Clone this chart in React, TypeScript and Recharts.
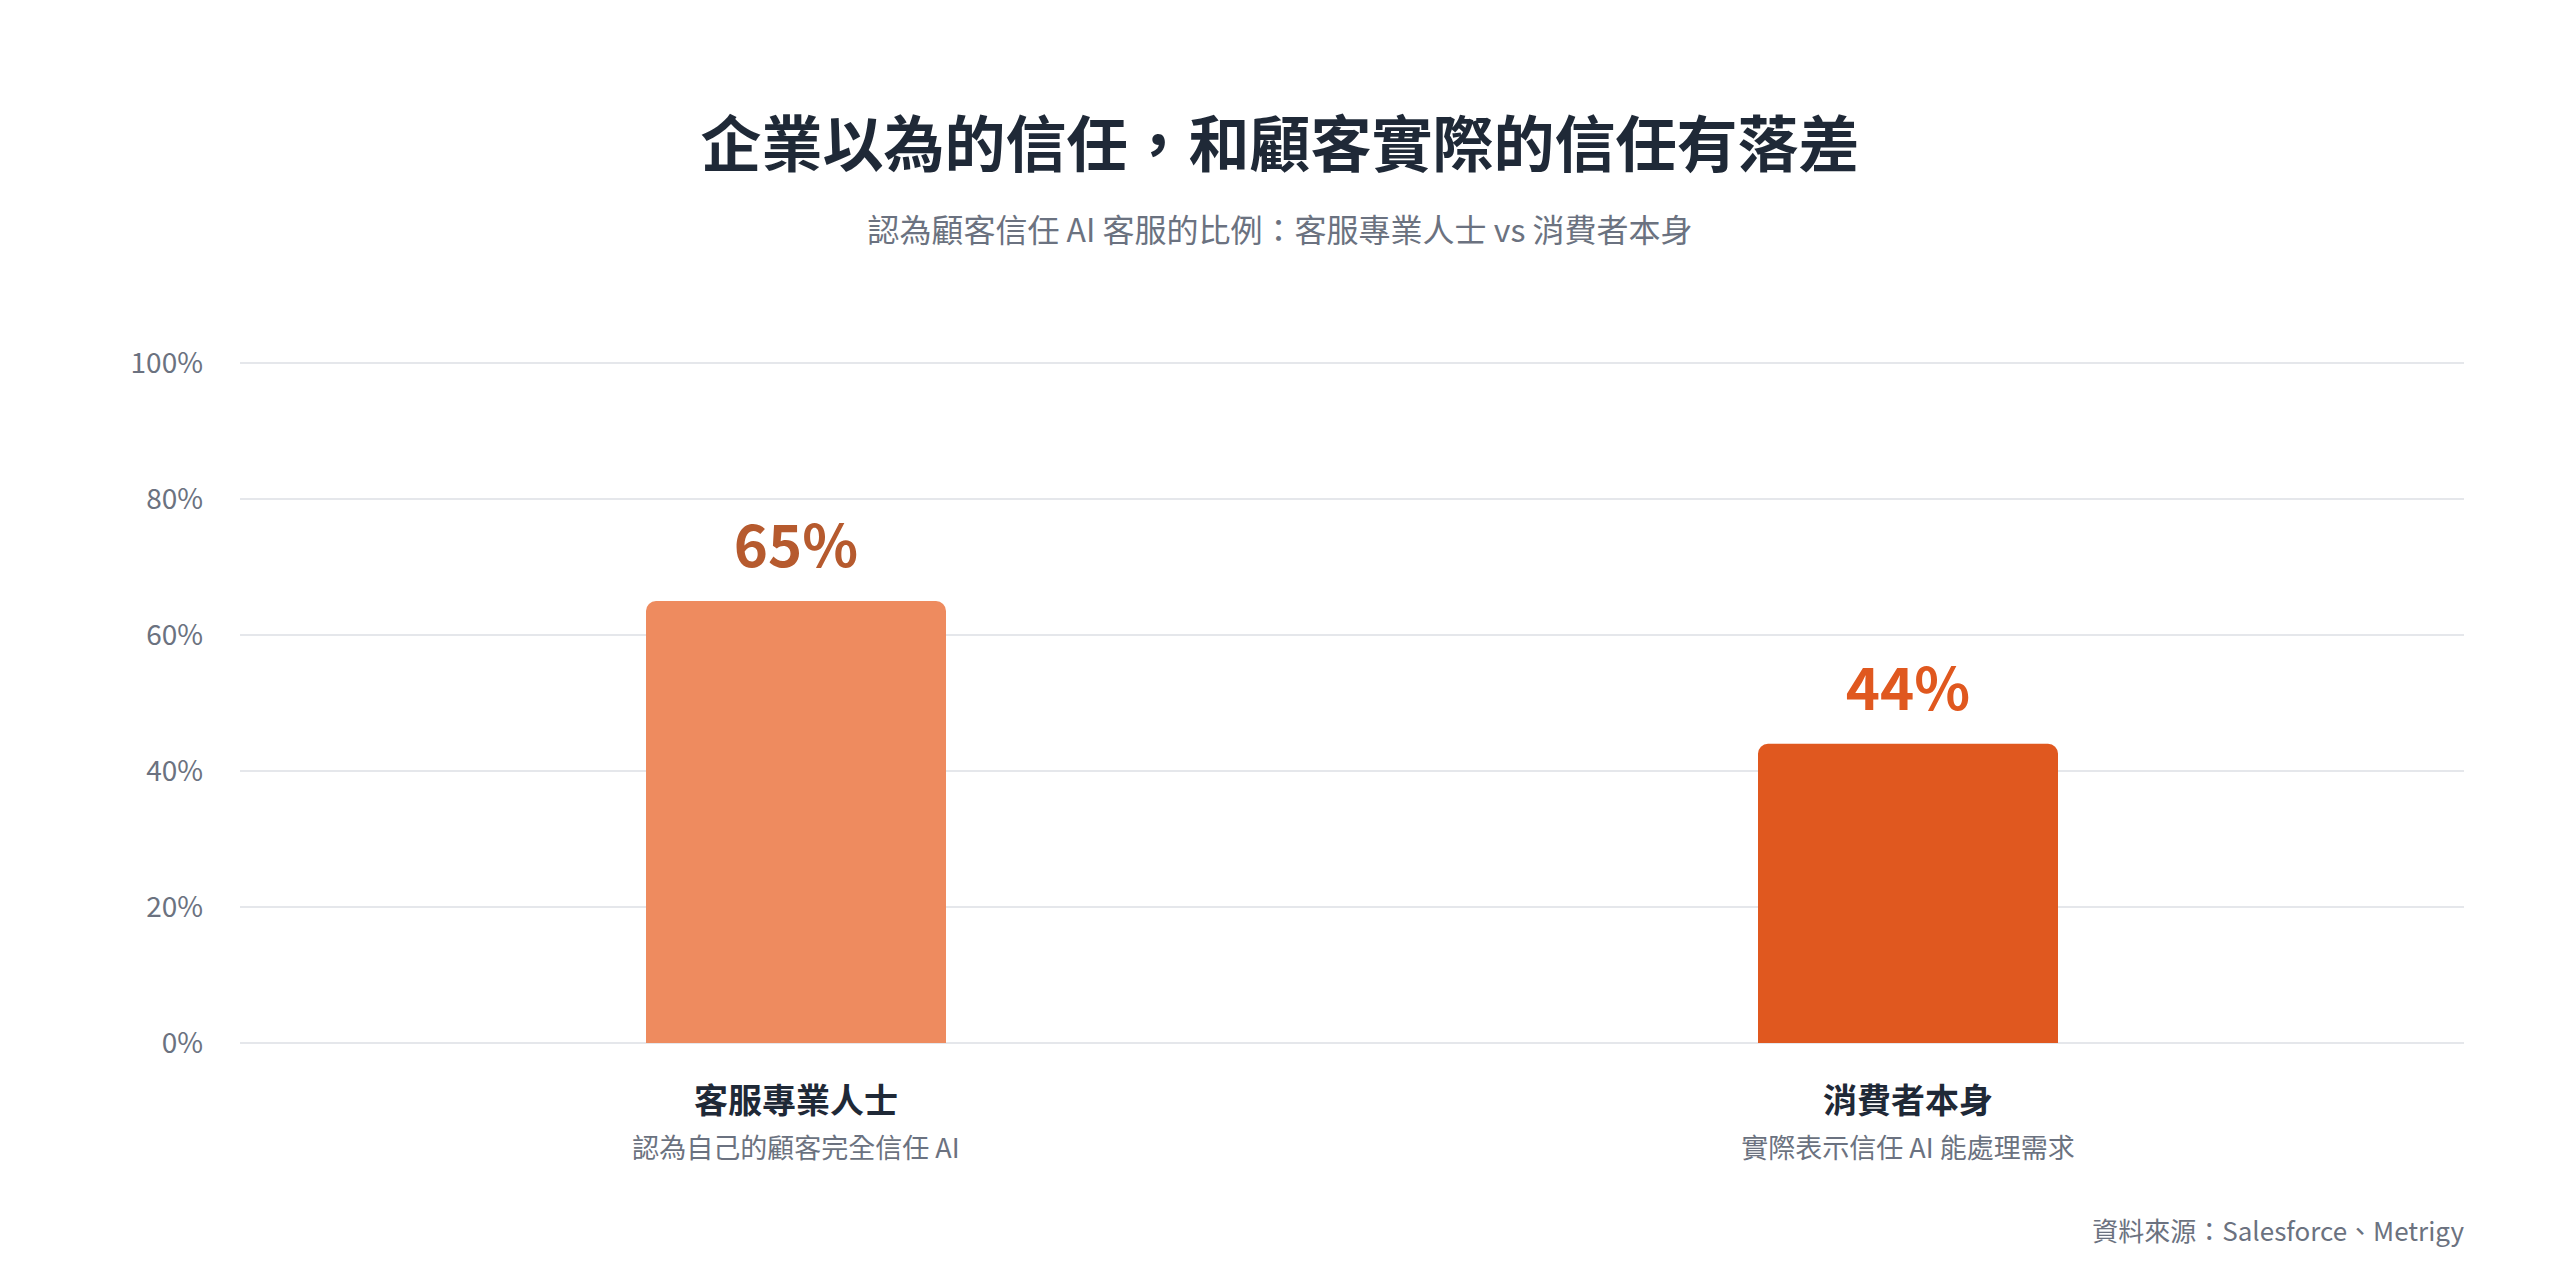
import React from "react";
import {
  BarChart,
  Bar,
  XAxis,
  YAxis,
  CartesianGrid,
  LabelList,
  Cell,
} from "recharts";

// Gap between what CS pros think and what consumers actually say about
// trusting AI-based customer service.
const groups = ["客服專業人士", "消費者本身"];
const groupNotes = ["認為自己的顧客完全信任 AI", "實際表示信任 AI 能處理需求"];
const trustShare = [65, 44];
const yTicks = [0, 20, 40, 60, 80, 100];

const barColors = ["#EE8B5F", "#E0581F"];
const labelColors = ["#B65A2E", "#E0581F"];

const FONT = '"Noto Sans CJK TC", "Noto Sans", sans-serif';

const rows = groups.map((name, i) => ({
  name,
  note: groupNotes[i],
  value: trustShare[i],
}));

function GroupTick(props: any) {
  const { x, y, payload, index } = props;
  return (
    <g transform={`translate(${x},${y})`}>
      <text
        textAnchor="middle"
        dy={61.5}
        fontSize={34}
        fontWeight={700}
        fill="#1F2937"
        fontFamily={FONT}
      >
        {payload.value}
      </text>
      <text
        textAnchor="middle"
        dy={107}
        fontSize={27}
        fill="#6B7280"
        fontFamily={FONT}
      >
        {groupNotes[index]}
      </text>
    </g>
  );
}

function ValueLabel(props: any) {
  const { x, y, width, value, index } = props;
  return (
    <text
      x={x + width / 2}
      y={y - 34}
      textAnchor="middle"
      fontSize={58}
      fontWeight={700}
      fill={labelColors[index]}
      fontFamily={FONT}
    >
      {`${value}%`}
    </text>
  );
}

export default function App() {
  return (
    <div
      style={{
        position: "relative",
        width: 2544,
        height: 1257,
        background: "#fff",
        fontFamily: FONT,
      }}
    >
      <BarChart
        width={2544}
        height={1257}
        data={rows}
        margin={{ top: 355, right: 88, left: 0, bottom: 62 }}
        barSize={300}
      >
        <CartesianGrid
          vertical={false}
          stroke="#E5E7EB"
          strokeWidth={2}
        />
        <XAxis
          dataKey="name"
          axisLine={false}
          tickLine={false}
          height={160}
          interval={0}
          tick={<GroupTick />}
        />
        <YAxis
          type="number"
          domain={[0, 100]}
          ticks={yTicks}
          width={232}
          axisLine={false}
          tickLine={false}
          tickSize={0}
          tickMargin={37}
          tickFormatter={(v: number) => `${v}%`}
          tick={{ fontSize: 28, fill: "#6B7280", fontFamily: FONT }}
        />
        <Bar dataKey="value" radius={[10, 10, 0, 0]} isAnimationActive={false}>
          {rows.map((r, i) => (
            <Cell key={r.name} fill={barColors[i]} />
          ))}
          <LabelList dataKey="value" content={<ValueLabel />} />
        </Bar>
      </BarChart>

      <div
        style={{
          position: "absolute",
          left: 0,
          top: 102,
          width: 2544,
          textAlign: "center",
          fontSize: 61,
          lineHeight: "61px",
          fontWeight: 700,
          color: "#1F2937",
        }}
      >
        企業以為的信任，和顧客實際的信任有落差
      </div>
      <div
        style={{
          position: "absolute",
          left: 0,
          top: 204,
          width: 2544,
          textAlign: "center",
          fontSize: 32,
          lineHeight: "32px",
          color: "#6B7280",
        }}
      >
        認為顧客信任 AI 客服的比例：客服專業人士 vs 消費者本身
      </div>
      <div
        style={{
          position: "absolute",
          right: 88,
          top: 1209,
          fontSize: 26,
          lineHeight: "26px",
          color: "#6B7280",
        }}
      >
        資料來源：Salesforce、Metrigy
      </div>
    </div>
  );
}
